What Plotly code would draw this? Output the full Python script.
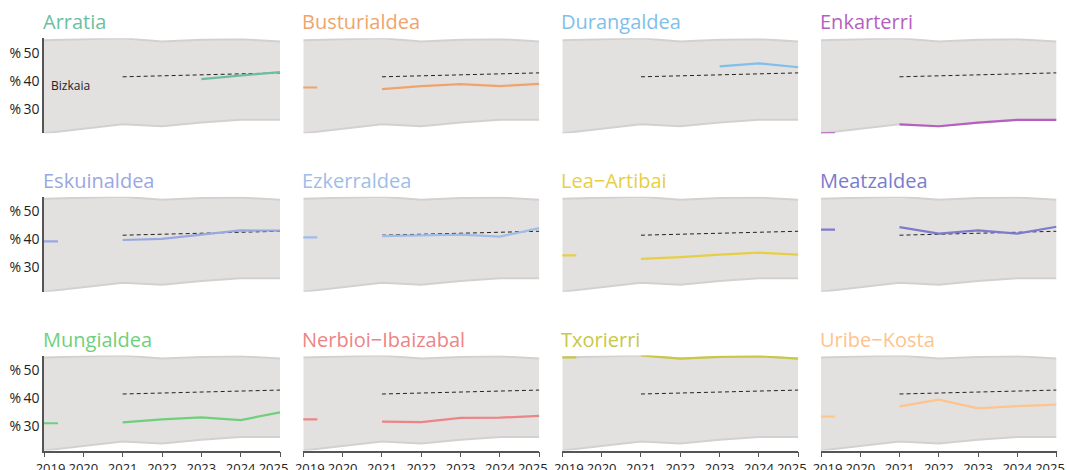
import plotly.graph_objects as go

years = [2019, 2020, 2021, 2022, 2023, 2024, 2025]
year_labels = ["\u2002\u20022019", "2020", "2021", "2022", "2023", "2024", "2025\u2002\u2002"]

comarcas = ["Arratia", "Busturialdea", "Durangaldea", "Enkarterri",
            "Eskuinaldea", "Ezkerraldea", "Lea\u2212Artibai", "Meatzaldea",
            "Mungialdea", "Nerbioi\u2212Ibaizabal", "Txorierri", "Uribe\u2212Kosta"]

arratia = [None, None, None, None, 40.6, 41.9, 43.1]
busturialdea = [37.6, None, 37.0, 38.1, 38.8, 38.1, 38.9]
durangaldea = [None, None, None, None, 45.1, 46.2, 44.8]
enkarterri = [21.3, None, 24.5, 23.8, 25.1, 26.1, 26.1]
eskuinaldea = [39.2, None, 39.7, 40.1, 41.6, 43.1, 43.0]
ezkerraldea = [40.6, None, 41.1, 41.4, 41.6, 40.9, 43.9]
lea_artibai = [34.2, None, 33.0, 33.6, 34.5, 35.2, 34.5]
meatzaldea = [43.4, None, 44.3, 42.0, 43.1, 42.0, 44.4]
mungialdea = [31.0, None, 31.3, 32.4, 33.1, 32.1, 34.9]
nerbioi = [32.4, None, 31.6, 31.4, 32.9, 33.0, 33.6]
txorierri = [54.4, None, 55.1, 54.0, 54.6, 54.8, 54.0]
uribe_kosta = [33.4, None, 37.0, 39.4, 36.3, 37.1, 37.6]

bizkaia = [None, None, 41.4, 41.7, 42.0, 42.4, 42.8]

series = [arratia, busturialdea, durangaldea, enkarterri, eskuinaldea, ezkerraldea,
          lea_artibai, meatzaldea, mungialdea, nerbioi, txorierri, uribe_kosta]

colors = ["#6cbf9e", "#f0a46c", "#7fbfea", "#b65fc0", "#9aa8e0", "#a0bde8",
          "#e6cf45", "#7a7ccc", "#6fd07c", "#ec8585", "#c9c845", "#fdc48c"]

ytick_vals = [30, 40, 50]
ytick_text = ["%\u200930", "%\u200940", "%\u200950"]

# band (range of all comarcas per year)
band_x, band_hi, band_lo = [], [], []
for i, yr in enumerate(years):
    vals = [s[i] for s in series if s[i] is not None]
    if vals:
        band_x.append(yr)
        band_hi.append(max(vals))
        band_lo.append(min(vals))
ymin = min(band_lo)
ymax = max(band_hi)

W, H = 1067, 470
col_px = [(44, 280), (303.3, 539.3), (562.3, 798.3), (821, 1056.5)]
row_px = [(38.3, 133.3), (196.7, 291.7), (355.5, 450.5)]

fig = go.Figure()
annotations = []
FONT = "Open Sans"

for k, (name, data, col) in enumerate(zip(comarcas, series, colors)):
    r, c = divmod(k, 4)
    idx = k + 1
    xa = "x" if idx == 1 else f"x{idx}"
    ya = "y" if idx == 1 else f"y{idx}"
    xkey = "xaxis" if idx == 1 else f"xaxis{idx}"
    ykey = "yaxis" if idx == 1 else f"yaxis{idx}"

    # band
    fig.add_trace(go.Scatter(x=band_x, y=band_lo, mode="lines",
                             line=dict(color="#d3d0d0", width=2),
                             hoverinfo="skip", showlegend=False, xaxis=xa, yaxis=ya))
    fig.add_trace(go.Scatter(x=band_x, y=band_hi, mode="lines", fill="tonexty",
                             fillcolor="#e3e0e0",
                             line=dict(color="#d3d0d0", width=2),
                             hoverinfo="skip", showlegend=False, xaxis=xa, yaxis=ya))
    # Bizkaia dashed
    fig.add_trace(go.Scatter(x=years, y=bizkaia, mode="lines",
                             line=dict(color="#222222", width=1, dash="4px,3px"),
                             showlegend=False, xaxis=xa, yaxis=ya))
    # comarca line
    fig.add_trace(go.Scatter(x=years, y=data, mode="lines",
                             line=dict(color=col, width=2.2),
                             showlegend=False, xaxis=xa, yaxis=ya))
    # 2019 isolated value as a short dash
    if data[0] is not None:
        fig.add_trace(go.Scatter(x=[years[0]], y=[data[0]], mode="markers",
                                 marker=dict(symbol="line-ew", size=20,
                                             line=dict(color=col, width=2.2)),
                                 cliponaxis=True,
                                 showlegend=False, xaxis=xa, yaxis=ya))

    x0, x1 = col_px[c]
    t, b = row_px[r]
    bottom_row = (r == 2)
    fig.layout[xkey] = dict(domain=[x0 / W, x1 / W], range=[2019, 2025],
                            anchor=ya, tickvals=years, ticktext=year_labels,
                            showticklabels=bottom_row, showline=bottom_row,
                            ticks="outside" if bottom_row else "",
                            ticklen=5, tickcolor="#555555", tickwidth=1.2,
                            linecolor="#555555", linewidth=1.5,
                            ticklabeloverflow="allow",
                            showgrid=False, zeroline=False, automargin=False,
                            tickfont=dict(family=FONT, size=13, color="#222222"))
    fig.layout[ykey] = dict(domain=[1 - b / H, 1 - t / H], range=[ymin, ymax],
                            anchor=xa, tickvals=ytick_vals, ticktext=ytick_text,
                            showticklabels=(c == 0), showline=(c == 0),
                            linecolor="#555555", linewidth=1.5,
                            ticks="", showgrid=False, zeroline=False, automargin=False,
                            tickfont=dict(family=FONT, size=14, color="#222222"))

    annotations.append(dict(text=name, xref=f"{xa} domain", yref=f"{ya} domain",
                            x=0, y=1, xanchor="left", yanchor="bottom",
                            xshift=-3, yshift=1, showarrow=False,
                            font=dict(family=FONT, size=20, color=col)))

annotations.append(dict(text="Bizkaia", xref="x", yref="y", x=2019, y=38.2,
                        xanchor="left", yanchor="middle", xshift=5, showarrow=False,
                        font=dict(family=FONT, size=12, color="#222222")))

fig.update_layout(width=W, height=H, margin=dict(l=0, r=0, t=0, b=0),
                  plot_bgcolor="white", paper_bgcolor="white",
                  annotations=annotations, showlegend=False)

fig.write_html("out.html", config={"displayModeBar": False},
               post_script="document.body.style.margin='0';document.body.style.padding='0';")
